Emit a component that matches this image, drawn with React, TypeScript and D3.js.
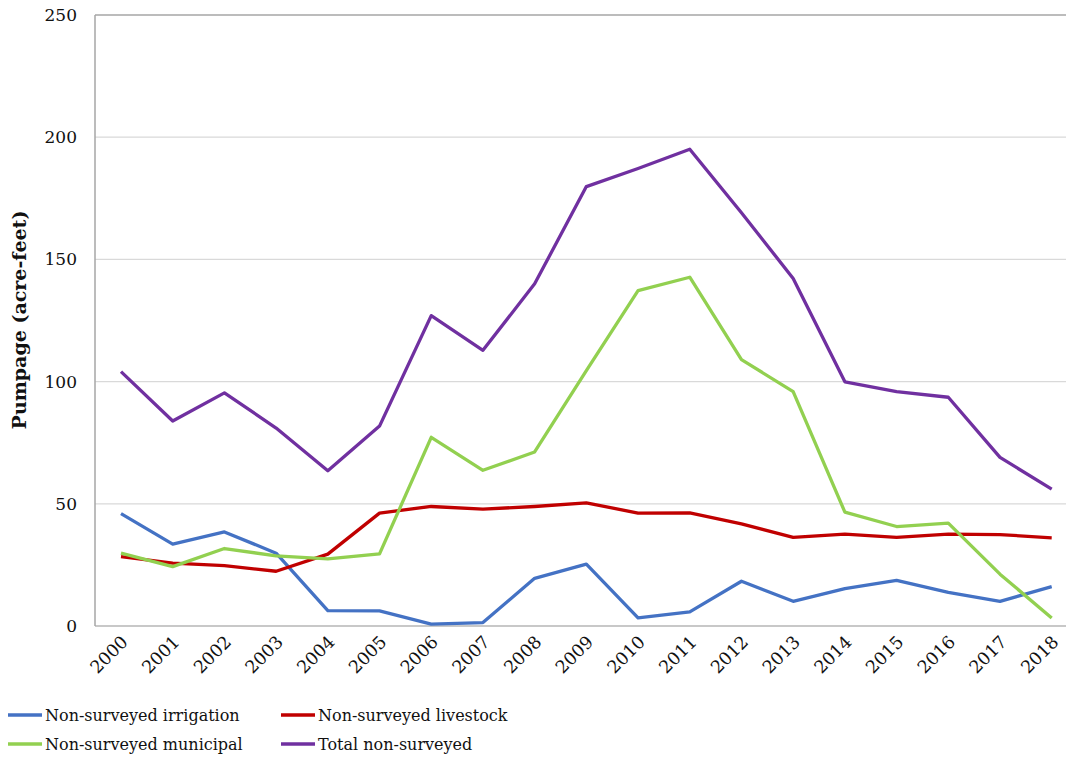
import React from "react";
import * as d3 from "d3";

const years = [
  "2000", "2001", "2002", "2003", "2004", "2005", "2006", "2007", "2008", "2009",
  "2010", "2011", "2012", "2013", "2014", "2015", "2016", "2017", "2018",
];

const irrigation = [46, 33.5, 38.5, 29.8, 6.3, 6.2, 0.8, 1.4, 19.5, 25.3, 3.3, 5.8, 18.3, 10.1, 15.3, 18.7, 13.8, 10.1, 16.1];
const livestock = [28.4, 25.7, 24.7, 22.4, 29.4, 46.2, 48.9, 47.8, 48.9, 50.4, 46.2, 46.3, 41.8, 36.3, 37.6, 36.3, 37.6, 37.4, 36.1];
const municipal = [29.8, 24.3, 31.7, 28.7, 27.5, 29.5, 77.2, 63.7, 71.2, 104.5, 137.2, 142.7, 109, 95.9, 46.6, 40.7, 42.1, 21.2, 3.3];
const total = [104.1, 83.9, 95.4, 81, 63.5, 81.8, 127, 112.8, 140, 179.8, 187.2, 195.1, 169.1, 142.2, 99.9, 95.9, 93.6, 69, 56];

const yTicks = [0, 50, 100, 150, 200, 250];

const series = [
  { name: "Non-surveyed irrigation", values: irrigation, color: "#4472C4" },
  { name: "Non-surveyed livestock", values: livestock, color: "#C00000" },
  { name: "Non-surveyed municipal", values: municipal, color: "#92D050" },
  { name: "Total non-surveyed", values: total, color: "#7030A0" },
];

const font = "'DejaVu Serif', 'Liberation Serif', serif";

export default function App() {
  const left = 95;
  const right = 1066;
  const top = 15;
  const bottom = 626;

  const x = d3.scalePoint<string>().domain(years).range([121, 1051.7]);
  const y = d3.scaleLinear().domain([0, 250]).range([bottom, top]);

  const line = d3
    .line<number>()
    .x((_, i) => x(years[i]) as number)
    .y((v) => y(v));

  return (
    <svg
      width={1068}
      height={757}
      style={{ position: "absolute", left: 0, top: 0, background: "#fff" }}
      fontFamily={font}
    >
      {/* gridlines */}
      {yTicks.map((t) => (
        <line
          key={t}
          x1={left}
          x2={right}
          y1={y(t)}
          y2={y(t)}
          stroke={t === 250 ? "#a6a6a6" : t === 0 ? "#c8c8c8" : "#d9d9d9"}
          strokeWidth={t === 0 ? 2 : t === 250 ? 1.5 : 1.2}
        />
      ))}
      <line x1={left} x2={left} y1={top} y2={bottom} stroke="#a6a6a6" strokeWidth={1.5} />

      {/* y ticks */}
      {yTicks.map((t) => (
        <text key={t} x={77} y={y(t) + 6} textAnchor="end" fontSize={17} fill="#111">
          {t}
        </text>
      ))}

      <text
        transform={`translate(26,320) rotate(-90)`}
        textAnchor="middle"
        fontSize={19}
        fontWeight="bold"
        fill="#111"
      >
        Pumpage (acre-feet)
      </text>

      {/* x ticks */}
      {years.map((yr) => (
        <text
          key={yr}
          transform={`translate(${(x(yr) as number) + 8},${bottom + 17}) rotate(-45)`}
          textAnchor="end"
          fontSize={17.5}
          fill="#111"
        >
          {yr}
        </text>
      ))}

      {/* series */}
      {series.map((s) => (
        <path
          key={s.name}
          d={line(s.values) ?? ""}
          fill="none"
          stroke={s.color}
          strokeWidth={3.3}
          strokeLinejoin="round"
        />
      ))}

      {/* legend */}
      {series.map((s, i) => {
        const lx = i % 2 === 0 ? 8 : 281;
        const ly = i < 2 ? 715 : 744;
        return (
          <g key={s.name}>
            <line x1={lx} x2={lx + 34} y1={ly} y2={ly} stroke={s.color} strokeWidth={3.3} />
            <text x={lx + 37} y={ly + 6} fontSize={16} fill="#111">
              {s.name}
            </text>
          </g>
        );
      })}
    </svg>
  );
}
